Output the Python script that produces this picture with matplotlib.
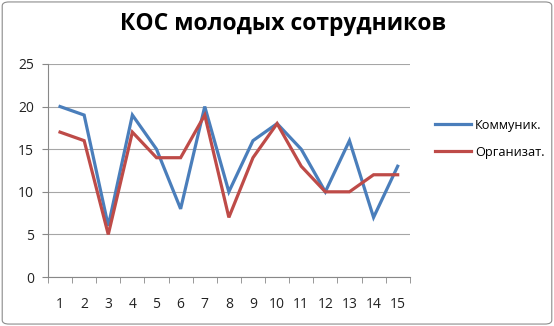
import numpy as np
import matplotlib.pyplot as plt
from matplotlib.patches import FancyBboxPatch

plt.rcParams['font.family'] = ['Open Sans', 'DejaVu Sans']

x = np.arange(1, 16)
kommunik = [20, 19, 6, 19, 15, 8, 20, 10, 16, 18, 15, 10, 16, 7, 13]
organizat = [17, 16, 5, 17, 14, 14, 19, 7, 14, 18, 13, 10, 10, 12, 12]
labels = ["Коммуник.", "Организат."]

fig = plt.figure(figsize=(5.54, 3.26), dpi=100)
fig.patches.append(FancyBboxPatch((0.004, 0.006), 0.992, 0.988, boxstyle="round,pad=0,rounding_size=0.012",
                                  transform=fig.transFigure, fc="none", ec="#8c8c8c", lw=0.8))
ax = fig.add_axes([0.0866, 0.150, 0.653, 0.654])

ax.plot(x, kommunik, color="#4A7EBB", lw=2.3, label=labels[0], solid_joinstyle="miter")
ax.plot(x, organizat, color="#BE4B48", lw=2.3, label=labels[1], solid_joinstyle="miter")

ax.set_xlim(0.5, 15.5)
ax.set_ylim(0, 25)
ax.set_yticks(range(0, 26, 5))
ax.set_xticks(x)
ax.set_xticks(np.arange(0.5, 16, 1), minor=True)
ax.tick_params(axis="x", which="major", length=0, pad=14, labelsize=10, colors="#222222")
ax.tick_params(axis="x", which="minor", length=4, color="#888888", direction="out")
ax.tick_params(axis="y", length=4, color="#888888", labelsize=10, colors="#222222", pad=6)
ax.grid(axis="y", color="#a6a6a6", lw=0.8)
ax.set_axisbelow(True)
for s in ["top", "right"]:
    ax.spines[s].set_visible(False)
for s in ["left", "bottom"]:
    ax.spines[s].set_color("#888888")
    ax.spines[s].set_linewidth(0.8)

fig.text(0.51, 0.925, "КОС молодых сотрудников", ha="center", va="center", fontsize=16.5, fontweight="bold")
fig.legend(loc="center left", bbox_to_anchor=(0.765, 0.575), frameon=False, fontsize=9.2,
           handlelength=2.8, handletextpad=0.3, labelspacing=1.1)

fig.savefig("out.png", dpi=100)
